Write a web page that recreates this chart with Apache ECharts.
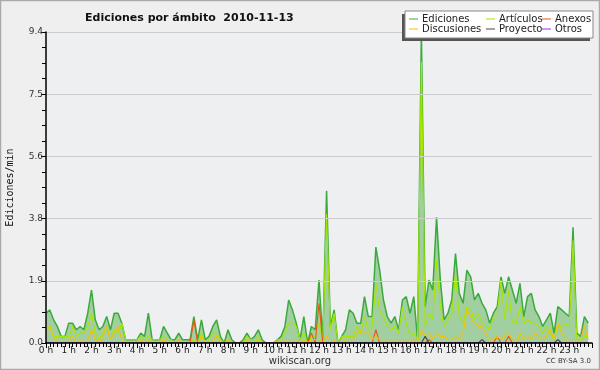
<!DOCTYPE html>
<html>
<head>
<meta charset="utf-8">
<script src="https://cdn.jsdelivr.net/npm/echarts@6/dist/echarts.min.js"></script>
<style>html,body{margin:0;padding:0;background:#efefef}#c{width:600px;height:370px}</style>
</head>
<body>
<div id="c"></div>
<script>
// 10-minute slots, 0:00 .. 23:50 (144 points), values in ediciones/min
const hourLabels = ['0 h','1 h','2 h','3 h','4 h','5 h','6 h','7 h','8 h','9 h','10 h','11 h','12 h','13 h','14 h','15 h','16 h','17 h','18 h','19 h','20 h','21 h','22 h','23 h'];
const yTicks = [0, 1.88, 3.76, 5.64, 7.52, 9.4];

const ediciones = [
0.9,1.0,0.7,0.5,0.2,0.2,0.6,0.6,0.4,0.5,
0.4,0.9,1.6,0.7,0.4,0.5,0.8,0.4,0.9,0.9,
0.6,0.1,0.1,0.1,0.1,0.3,0.2,0.9,0.1,0.1,
0.1,0.5,0.3,0.1,0.1,0.3,0.1,0.1,0.1,0.8,
0.1,0.7,0.1,0.2,0.5,0.7,0.2,0.0,0.4,0.1,
0.0,0.0,0.1,0.3,0.1,0.2,0.4,0.1,0.0,0.0,
0.0,0.1,0.2,0.5,1.3,1.0,0.6,0.1,0.8,0.0,
0.5,0.4,1.9,0.1,4.6,0.5,1.0,0.0,0.2,0.4,
1.0,0.9,0.6,0.6,1.4,0.8,0.8,2.9,2.2,1.3,
0.8,0.6,0.8,0.4,1.3,1.4,0.9,1.4,0.1,9.4,
1.1,1.9,1.6,3.8,1.9,0.7,0.9,1.3,2.7,1.5,
1.2,2.2,2.0,1.3,1.5,1.2,1.0,0.6,0.9,1.1,
2.0,1.5,2.0,1.6,1.2,1.8,0.8,1.4,1.5,1.0,
0.8,0.5,0.7,0.9,0.3,1.1,1.0,0.9,0.8,3.5,
0.3,0.2,0.8,0.6];

const articulos = [
0.3,0.5,0.2,0.2,0.2,0.2,0.2,0.5,0.2,0.3,
0.3,0.5,0.9,0.3,0.1,0.3,0.5,0.1,0.4,0.3,
0.6,0.1,0.1,0.1,0.1,0.2,0.1,0.2,0.1,0.1,
0.1,0.2,0.1,0.1,0.0,0.1,0.0,0.0,0.0,0.1,
0.0,0.3,0.0,0.1,0.3,0.3,0.1,0.0,0.1,0.0,
0.0,0.0,0.0,0.2,0.1,0.1,0.2,0.0,0.0,0.0,
0.0,0.1,0.1,0.3,0.6,0.6,0.5,0.1,0.3,0.0,
0.2,0.2,0.6,0.1,3.9,0.4,0.9,0.0,0.2,0.2,
0.2,0.2,0.5,0.3,0.8,0.4,0.5,1.8,1.0,0.8,
0.5,0.4,0.5,0.3,1.1,0.6,0.2,0.3,0.1,8.5,
0.5,0.9,0.7,2.5,1.1,0.5,0.7,0.9,2.1,0.8,
0.6,1.1,1.0,0.7,0.9,0.6,0.5,0.4,0.8,0.9,
1.9,0.7,1.6,0.6,0.6,1.1,0.6,0.7,0.6,0.6,
0.5,0.3,0.5,0.3,0.1,0.5,0.5,0.6,0.5,3.1,
0.1,0.1,0.2,0.2];

const discusiones = [
0.4,0.5,0.2,0.0,0.0,0.0,0.1,0.2,0.0,0.1,
0.1,0.1,0.4,0.1,0.0,0.2,0.5,0.1,0.3,0.5,
0.1,0.0,0.0,0.0,0.0,0.1,0.0,0.1,0.0,0.0,
0.0,0.1,0.0,0.0,0.0,0.1,0.0,0.0,0.0,0.0,
0.0,0.2,0.0,0.0,0.1,0.2,0.0,0.0,0.1,0.0,
0.0,0.0,0.0,0.1,0.0,0.0,0.1,0.0,0.0,0.0,
0.0,0.0,0.1,0.1,0.1,0.1,0.1,0.0,0.1,0.0,
0.1,0.1,0.1,0.0,0.2,0.1,0.1,0.0,0.0,0.1,
0.1,0.1,0.3,0.4,0.3,0.3,0.1,0.2,0.1,0.1,
0.1,0.1,0.1,0.1,0.1,0.1,0.1,0.1,0.0,0.4,
0.2,0.3,0.1,0.3,0.2,0.2,0.1,0.1,0.2,0.1,
0.3,1.0,0.8,0.6,0.5,0.5,0.3,0.1,0.1,0.2,
0.1,0.2,0.3,0.1,0.0,0.3,0.1,0.2,0.1,0.3,
0.2,0.1,0.2,0.4,0.1,0.6,0.3,0.1,0.1,0.1,
0.1,0.1,0.5,0.1];

const anexos = [
0,0,0,0,0,0,0,0,0,0,
0,0,0,0,0,0,0,0,0,0,
0,0,0,0,0,0,0,0,0,0,
0,0,0,0,0,0,0,0,0,0.7,
0,0,0,0,0,0,0,0,0,0,
0,0,0,0,0,0,0,0,0,0,
0,0,0,0,0,0,0,0,0,0,
0.3,0,1.2,0,0,0,0,0,0,0,
0,0,0,0,0,0,0,0.4,0,0,
0,0,0,0,0,0,0,0,0,0,
0,0.1,0,0,0,0,0,0,0,0,
0,0,0,0,0,0,0,0,0,0.2,
0,0,0.2,0,0,0,0,0,0,0,
0,0,0,0,0,0,0,0,0,0,
0,0,0,0];

const proyecto = [
0,0,0,0,0,0,0,0,0,0,
0,0,0,0,0,0,0,0,0,0,
0,0,0,0,0,0,0,0,0,0,
0,0,0,0,0,0,0,0,0,0,
0,0,0,0,0,0,0,0,0,0,
0,0,0,0,0,0,0,0,0,0,
0,0,0,0,0,0,0,0,0,0,
0,0,0,0,0,0,0,0,0,0,
0,0,0,0,0,0,0,0,0,0,
0,0,0,0,0,0,0,0,0,0,
0.2,0,0,0,0,0,0,0,0,0,
0,0,0,0,0,0.1,0,0,0,0,
0,0,0,0,0,0,0,0,0,0,
0,0,0,0,0,0.1,0,0,0,0,
0,0,0,0];

const otros = [
0,0,0,0,0,0,0,0,0,0,
0,0,0,0,0,0,0,0,0,0,
0,0,0,0,0,0,0,0,0,0,
0,0,0,0,0,0,0,0,0,0,
0,0,0,0,0,0,0,0,0,0,
0,0,0,0,0,0,0,0,0,0,
0,0,0,0,0,0,0,0,0,0,
0,0,0,0,0,0,0,0,0,0,
0,0,0,0,0,0,0,0,0,0,
0,0,0,0,0,0,0,0,0,0,
0,0,0,0,0,0,0,0,0,0,
0,0,0,0,0,0,0,0,0,0,
0,0,0,0,0,0,0,0,0,0,
0,0,0,0,0,0,0,0,0,0,
0,0,0,0];

const seriesNames = ['Ediciones','Artículos','Anexos','Discusiones','Proyecto','Otros'];
const seriesData = [ediciones, articulos, anexos, discusiones, proyecto, otros];
const seriesColors = ['#3aaa3a','#a6e600','#ee5511','#f7c000','#444444','#8833ee'];

const chart = echarts.init(document.getElementById('c'), null, {renderer:'canvas'});
const pts = arr => arr.map((v,i)=>[i,v]);

const series = seriesNames.map((n,k)=>{
  const s = {
    name:n, type:'line', data:pts(seriesData[k]), symbol:'none', smooth:false,
    lineStyle:{color:seriesColors[k], width: k===0?1.5:1.1},
    itemStyle:{color:seriesColors[k]},
    z: k===0?2:3+k
  };
  if (k===0) s.areaStyle = {color:'#a2cfa2', opacity:1};
  return s;
});
// draw order: area first, then lines
const order = [0,3,1,2,4,5];

const legendBase = {
  orient:'vertical', itemGap:0, itemWidth:9, itemHeight:1, icon:'rect', padding:0,
  selectedMode:false, z:30,
  textStyle:{fontFamily:'DejaVu Sans', fontSize:10, color:'#222', lineHeight:10, padding:[0,0,0,-1]}
};

chart.setOption({
  animation:false,
  backgroundColor:'#efefef',
  title:{text:'Ediciones por ámbito  2010-11-13', left:80, top:8,
    textStyle:{fontFamily:'DejaVu Sans', fontWeight:'bold', fontSize:11, color:'#111'}},
  grid:{left:46, right:8, top:32, bottom:27, show:true, backgroundColor:'#eeeff1', borderWidth:0,
    outerBoundsMode:'none', containLabel:false},
  xAxis:{type:'value', min:0, max:144, interval:6, z:10,
    axisLine:{lineStyle:{color:'#000', width:1.5}},
    axisTick:{length:5, lineStyle:{color:'#000'}},
    minorTick:{show:true, splitNumber:6, length:4, lineStyle:{color:'#000'}},
    splitLine:{show:false},
    axisLabel:{showMaxLabel:false, fontFamily:'DejaVu Sans', fontSize:9, color:'#222', margin:3,
      formatter: v => (v<144 ? hourLabels[Math.round(v/6)] : '')}},
  yAxis:{type:'value', min:0, max:yTicks[yTicks.length-1], interval:yTicks[1], z:10,
    name:'Ediciones/min', nameLocation:'middle', nameGap:31,
    nameTextStyle:{fontFamily:'DejaVu Sans Mono', fontSize:10, color:'#111'},
    axisLine:{show:true, lineStyle:{color:'#000', width:1.5}},
    axisTick:{show:true, length:5, lineStyle:{color:'#000'}},
    minorTick:{show:true, splitNumber:4, length:4, lineStyle:{color:'#000'}},
    splitLine:{show:true, lineStyle:{color:'#cccccc', width:1}},
    axisLabel:{fontFamily:'DejaVu Sans', fontSize:9, color:'#333', margin:3,
      formatter: v => v.toFixed(1)}},
  legend:[
    Object.assign({}, legendBase, {data:['Ediciones','Discusiones'], left:409, top:14}),
    Object.assign({}, legendBase, {data:['Artículos','Proyecto'], left:486, top:14}),
    Object.assign({}, legendBase, {data:['Anexos','Otros'], left:542, top:14})
  ],
  graphic:[
    {type:'rect', z:20, shape:{x:402, y:14, width:188, height:27}, style:{fill:'#555'}},
    {type:'rect', z:21, shape:{x:405, y:11, width:188, height:27}, style:{fill:'#ffffff', stroke:'#888', lineWidth:1}},
    {type:'text', z:21, left:'center', top:356, style:{text:'wikiscan.org', font:'10px "DejaVu Sans"', fill:'#333'}},
    {type:'text', z:21, right:9, top:358, style:{text:'CC BY-SA 3.0', font:'7px "DejaVu Sans"', fill:'#333'}},
    {type:'rect', z:25, shape:{x:0.5, y:0.5, width:599, height:369}, style:{fill:'none', stroke:'#aaaaaa', lineWidth:1.5}}
  ],
  series: order.map(k=>series[k])
});
</script>
</body>
</html>
